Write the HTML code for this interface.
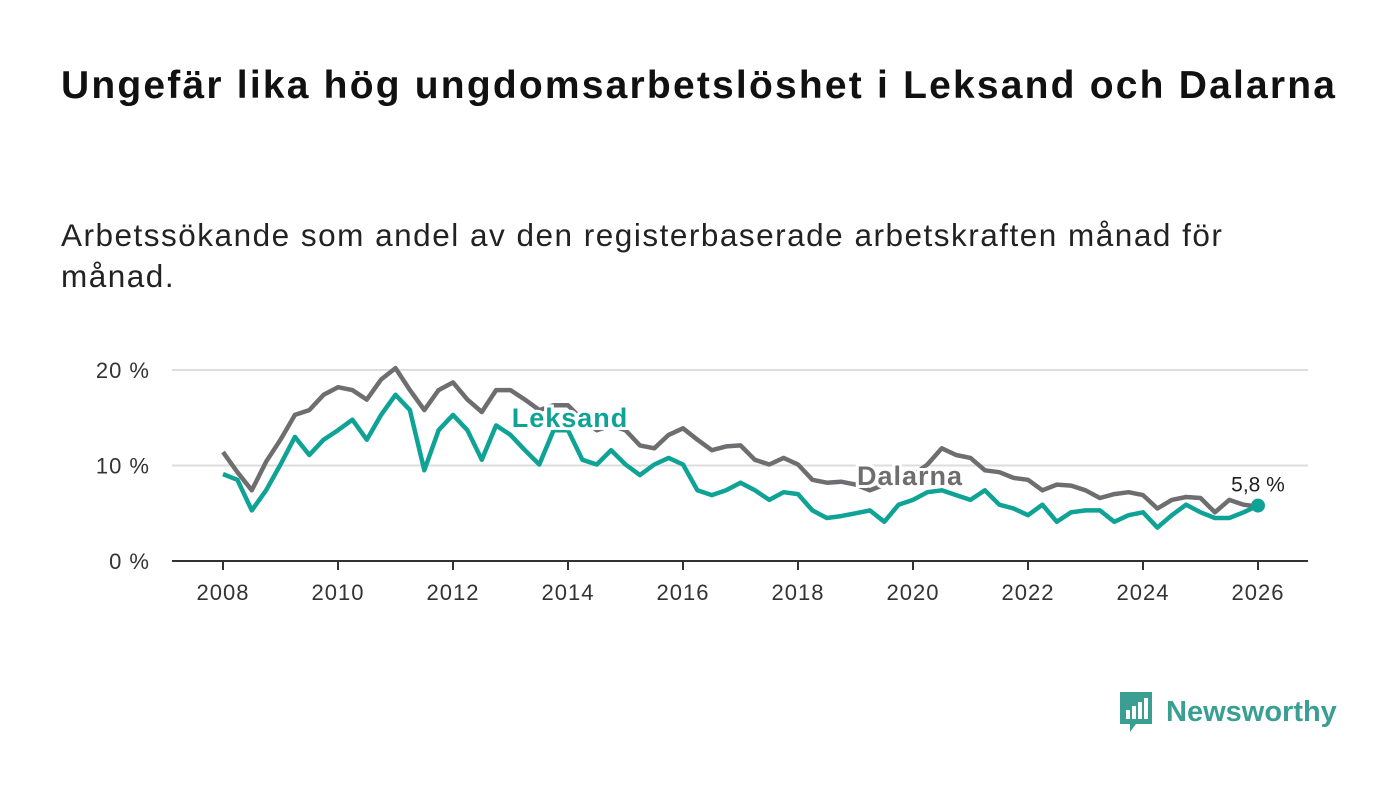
<!DOCTYPE html>
<html><head><meta charset="utf-8"><style>
body{margin:0;width:1400px;height:794px;background:#fff;font-family:"Liberation Sans",sans-serif;overflow:hidden;position:relative}
h1{position:absolute;left:61px;top:64px;margin:0;font-size:39px;font-weight:bold;color:#111;letter-spacing:2.2px;white-space:nowrap}
.sub{position:absolute;left:61px;top:215px;font-size:31.5px;letter-spacing:1.5px;line-height:41px;color:#222;width:1240px}
svg{position:absolute;left:0;top:0}
</style></head><body>
<h1>Ungefär lika hög ungdomsarbetslöshet i Leksand och Dalarna</h1>
<div class="sub">Arbetssökande som andel av den registerbaserade arbetskraften månad för månad.</div>
<svg id="c" width="1400" height="794"></svg>
<div style="position:absolute;left:1118px;top:690px;display:flex;align-items:center">
<svg width="36" height="44" style="position:static"><path d="M2 2h32v32H18l-6 8v-8H2z" fill="#3a9e93"/><rect x="8" y="20" width="4" height="9" fill="#fff"/><rect x="14" y="16" width="4" height="13" fill="#fff"/><rect x="20" y="12" width="4" height="17" fill="#fff"/><rect x="26" y="8" width="4" height="21" fill="#fff"/></svg>
<span style="font-size:29px;font-weight:bold;color:#3a9e93;margin-left:12px">Newsworthy</span></div>
<script>
const years=['2008','2010','2012','2014','2016','2018','2020','2022','2024','2026'];
const yTicks=[0,10,20];
const dalarna=[11.4,9.3,7.4,10.4,12.7,15.3,15.8,17.4,18.2,17.9,16.9,19.0,20.2,17.9,15.8,17.9,18.7,16.9,15.6,17.9,17.9,16.9,15.8,16.3,16.3,14.8,13.7,14.2,13.7,12.1,11.8,13.2,13.9,12.7,11.6,12.0,12.1,10.6,10.1,10.8,10.1,8.5,8.2,8.3,8.0,7.4,8.0,8.5,9.0,10.1,11.8,11.1,10.8,9.5,9.3,8.7,8.5,7.4,8.0,7.9,7.4,6.6,7.0,7.2,6.9,5.5,6.4,6.7,6.6,5.1,6.4,5.9,5.7];
const leksand=[9.1,8.5,5.3,7.4,10.1,13.0,11.1,12.7,13.7,14.8,12.7,15.3,17.4,15.8,9.5,13.7,15.3,13.7,10.6,14.2,13.2,11.6,10.1,13.7,13.7,10.6,10.1,11.6,10.1,9.0,10.1,10.8,10.1,7.4,6.9,7.4,8.2,7.4,6.4,7.2,7.0,5.3,4.5,4.7,5.0,5.3,4.1,5.9,6.4,7.2,7.4,6.9,6.4,7.4,5.9,5.5,4.8,5.9,4.1,5.1,5.3,5.3,4.1,4.8,5.1,3.5,4.8,5.9,5.1,4.5,4.5,5.1,5.8];
const startYear=2008, step=0.25;
const X=y=>223+(y-2008)*57.5, Y=v=>561-v*9.55;
const s=document.getElementById('c'),NS='http://www.w3.org/2000/svg';
function mk(t,a,p){const e=document.createElementNS(NS,t);for(const k in a)e.setAttribute(k,a[k]);(p||s).appendChild(e);return e;}
yTicks.forEach(v=>{if(v>0){const g=mk('line',{x1:172,x2:1308,y1:Y(v),y2:Y(v),stroke:'#ddd','stroke-width':2});}
const t=mk('text',{x:150,y:Y(v)+8,'text-anchor':'end','font-size':22,'letter-spacing':1,fill:'#333','font-family':'Liberation Sans'});t.textContent=v+' %';});
const ax=mk('line',{x1:172,x2:1308,y1:561,y2:561,stroke:'#333','stroke-width':2});
years.forEach(y=>{const x=X(+y);mk('line',{x1:x,x2:x,y1:561,y2:570,stroke:'#333','stroke-width':2});
const t=mk('text',{x:x,y:600,'text-anchor':'middle','font-size':22,'letter-spacing':1,fill:'#333','font-family':'Liberation Sans'});t.textContent=y;});
function line(d,c,n){const p=d.map((v,i)=>(i?'L':'M')+X(startYear+i*step).toFixed(1)+','+Y(v).toFixed(1)).join('');
const e=mk('path',{d:p,fill:'none',stroke:c,'stroke-width':4.5,'stroke-linejoin':'round'});}
line(dalarna,'#6e6e70','line-dalarna');line(leksand,'#0ea395','line-leksand');
function lab(x,y,txt,c,n){const t=mk('text',{x:x,y:y,'text-anchor':'middle','font-size':27,'font-weight':'bold','letter-spacing':1,fill:c,stroke:'#fff','stroke-width':6,'paint-order':'stroke','font-family':'Liberation Sans'});t.textContent=txt;}
lab(570,427,'Leksand','#0ea395','label-leksand');lab(910,485,'Dalarna','#6e6e70','label-dalarna');
const lx=X(startYear+(leksand.length-1)*step),ly=Y(leksand[leksand.length-1]);
const dot=mk('circle',{cx:lx,cy:ly,r:7,fill:'#0ea395'});
const vl=mk('text',{x:lx,y:ly-14,'text-anchor':'middle','font-size':21,fill:'#222','font-family':'Liberation Sans'});vl.textContent=String(leksand[leksand.length-1]).replace('.',',')+' %';
</script>
</body></html>
